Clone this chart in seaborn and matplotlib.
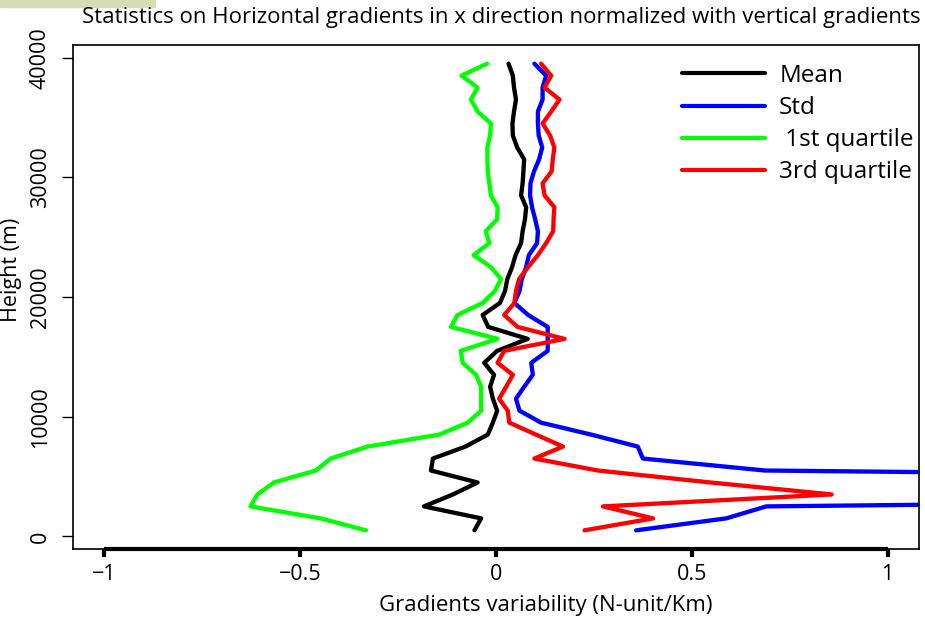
import matplotlib
matplotlib.use("Agg")
import matplotlib.pyplot as plt
from matplotlib.lines import Line2D
from matplotlib.patches import Rectangle
import seaborn as sns
import pandas as pd
import numpy as np

# ---------------- data ----------------
heights = [500 + 1000 * k for k in range(40)]

mean_vals = [-0.055, -0.038, -0.184, -0.110, -0.047, -0.166, -0.161, -0.078, -0.021, -0.008,
             0.003, -0.008, -0.015, -0.005, -0.030, 0.003, 0.081, -0.020, -0.034, 0.010,
             0.023, 0.029, 0.041, 0.050, 0.064, 0.068, 0.074, 0.077, 0.064, 0.068,
             0.070, 0.072, 0.054, 0.043, 0.042, 0.046, 0.051, 0.046, 0.043, 0.032]

std_vals = [0.358, 0.588, 0.690, 3.600, 3.700, 0.686, 0.375, 0.362, 0.243, 0.115,
            0.060, 0.051, 0.072, 0.094, 0.090, 0.132, 0.132, 0.132, 0.082, 0.047,
            0.060, 0.066, 0.077, 0.084, 0.105, 0.107, 0.100, 0.092, 0.087, 0.088,
            0.097, 0.110, 0.118, 0.109, 0.107, 0.107, 0.119, 0.119, 0.128, 0.098]

q1_vals = [-0.332, -0.448, -0.627, -0.609, -0.567, -0.460, -0.422, -0.328, -0.145, -0.072,
           -0.038, -0.038, -0.038, -0.051, -0.085, -0.090, 0.004, -0.115, -0.098, -0.034,
           -0.003, 0.013, -0.013, -0.057, -0.017, -0.026, 0.003, 0.004, -0.013, -0.017,
           -0.021, -0.022, -0.022, -0.015, -0.013, -0.047, -0.064, -0.047, -0.088, -0.023]

q3_vals = [0.226, 0.401, 0.273, 0.857, 0.547, 0.260, 0.098, 0.171, 0.102, 0.034,
           0.030, 0.008, 0.026, 0.043, 0.004, 0.021, 0.175, 0.055, 0.021, 0.047,
           0.051, 0.059, 0.082, 0.107, 0.128, 0.146, 0.147, 0.149, 0.124, 0.119,
           0.142, 0.145, 0.149, 0.138, 0.119, 0.141, 0.162, 0.124, 0.141, 0.115]

series_names = ["Mean", "Std", "1st quartile", "3rd quartile"]
legend_labels = ["Mean", "Std", " 1st quartile", "3rd quartile"]
series_colors = ["#000000", "#0000ff", "#00ff00", "#ff0000"]

x_ticks = [-1, -0.5, 0, 0.5, 1]
x_tick_labels = ["\u22121", "\u22120.5", "0", "0.5", "1"]
y_ticks = [0, 10000, 20000, 30000, 40000]
y_tick_labels = ["0", "10000", "20000", "30000", "40000"]

title = "Statistics on Horizontal gradients in x direction normalized with vertical gradients"
xlabel = "Gradients variability (N-unit/Km)"
ylabel = "Height (m)"

frames = []
for name, vals in zip(series_names, [mean_vals, std_vals, q1_vals, q3_vals]):
    frames.append(pd.DataFrame({"height": heights, "value": vals, "series": name}))
df = pd.concat(frames, ignore_index=True)

# ---------------- style ----------------
sns.set_style("white")
plt.rcParams["font.family"] = ["Open Sans", "DejaVu Sans"]
plt.rcParams["text.color"] = "black"
plt.rcParams["axes.labelcolor"] = "black"

W, H = 925, 619
fig = plt.figure(figsize=(W / 100, H / 100), dpi=100)
fig.patches.append(Rectangle((0, 1 - 7 / H), 155 / W, 7 / H, transform=fig.transFigure,
                             color="#d6ddb4", zorder=0))

L, R, T, B = 73, 919, 45, 549
ax = fig.add_axes([L / W, 1 - B / H, (R - L) / W, (B - T) / H])

sns.lineplot(data=df, x="value", y="height", hue="series", hue_order=series_names,
             palette=series_colors, orient="y", estimator=None, sort=True,
             linewidth=3.1, legend=False, ax=ax)

ax.set_xlim(-1.08, 1.08)
ax.set_ylim(-1060, 41060)

for s in ax.spines.values():
    s.set_visible(True)
    s.set_color("black")
    s.set_linewidth(1.2)

# thick R-style x axis line from -1 to 1
ax.plot([x_ticks[0], x_ticks[-1]], [0, 0], transform=ax.get_xaxis_transform(),
        color="black", lw=3, clip_on=False, solid_capstyle="butt")

ax.set_xticks(x_ticks)
ax.set_xticklabels(x_tick_labels)
ax.set_yticks(y_ticks)
ax.set_yticklabels(y_tick_labels, rotation=90, va="center")
ax.tick_params(axis="x", direction="out", length=6, width=3, pad=5, labelsize=15.5,
               bottom=True, colors="black")
ax.tick_params(axis="y", direction="out", length=8, width=1, pad=8, labelsize=15.5,
               left=True, colors="black")
ax.set_xlabel("")
ax.set_ylabel("")

fig.text(501 / W, 1 - 18 / H, title, ha="center", va="center", fontsize=16, color="black")
fig.text(546 / W, 1 - 606 / H, xlabel, ha="center", va="center", fontsize=16, color="black")
fig.text(12 / W, 1 - 270 / H, ylabel, ha="center", va="center", rotation=90,
         fontsize=15.5, color="black")

handles = [Line2D([], [], color=c, lw=3) for c in series_colors]
leg = fig.legend(handles, legend_labels, loc="upper left",
                 bbox_to_anchor=(682 / W, 1 - 64 / H), bbox_transform=fig.transFigure,
                 frameon=False, fontsize=17.5, handlelength=3.4, handletextpad=0.6,
                 labelspacing=0.33, borderaxespad=0, borderpad=0)
for t in leg.get_texts():
    t.set_color("black")

fig.savefig("out.png", dpi=100)
